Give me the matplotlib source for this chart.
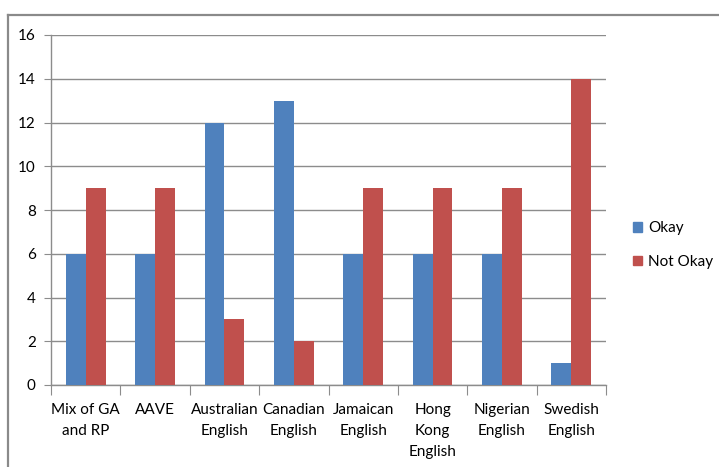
import numpy as np
import matplotlib.pyplot as plt
from matplotlib.lines import Line2D
from matplotlib.patches import Patch

categories = ["Mix of GA\nand RP", "AAVE", "Australian\nEnglish", "Canadian\nEnglish",
              "Jamaican\nEnglish", "Hong\nKong\nEnglish", "Nigerian\nEnglish", "Swedish\nEnglish"]
okay = [6, 6, 12, 13, 6, 6, 6, 1]
not_okay = [9, 9, 3, 2, 9, 9, 9, 14]

blue = "#4F81BD"
red = "#C0504D"
grid_col = "#8C8C8C"

plt.rcParams["font.family"] = ["Lato", "DejaVu Sans"]

W, H = 719, 467
fig = plt.figure(figsize=(W / 100, H / 100), dpi=100)

# outer chart frame (only top and left edges fall inside the image)
fig.add_artist(Line2D([8 / W, 1], [1 - 15 / H, 1 - 15 / H], color="#8A8A8A", lw=1.6,
                      transform=fig.transFigure))
fig.add_artist(Line2D([8 / W, 8 / W], [0, 1 - 15 / H], color="#8A8A8A", lw=1.6,
                      transform=fig.transFigure))

left, right, top, bottom = 51, 606, 35, 385
ax = fig.add_axes([left / W, 1 - bottom / H, (right - left) / W, (bottom - top) / H])

x = np.arange(len(categories))
bw = 1 / 3.5
ax.bar(x - bw / 2, okay, width=bw, color=blue, label="Okay", zorder=3)
ax.bar(x + bw / 2, not_okay, width=bw, color=red, label="Not Okay", zorder=3)

ax.set_xlim(-0.5, len(categories) - 0.5)
ax.set_ylim(0, 16)
ax.set_yticks(np.arange(0, 17, 2))
ax.yaxis.grid(True, color=grid_col, lw=1, zorder=0)

for s in ["top", "right"]:
    ax.spines[s].set_visible(False)
for s in ["left", "bottom"]:
    ax.spines[s].set_color(grid_col)
    ax.spines[s].set_linewidth(1)

ax.tick_params(axis="y", length=5, color=grid_col, labelsize=11, pad=6)
ax.set_xticks(np.arange(-0.5, len(categories), 1))
ax.set_xticklabels([])
ax.tick_params(axis="x", length=7, color=grid_col)
ax.set_xticks(x, minor=True)
ax.set_xticklabels(categories, minor=True, fontsize=11, linespacing=1.65)
ax.tick_params(axis="x", which="minor", length=0, pad=13)

handles = [Patch(color=blue, label="Okay"), Patch(color=red, label="Not Okay")]
fig.legend(handles=handles, loc="center left", bbox_to_anchor=(619 / W, 1 - 245 / H),
           frameon=False, fontsize=11, handlelength=0.6, handleheight=0.6,
           handletextpad=0.4, labelspacing=1.3)

fig.savefig("out.png", dpi=100)
